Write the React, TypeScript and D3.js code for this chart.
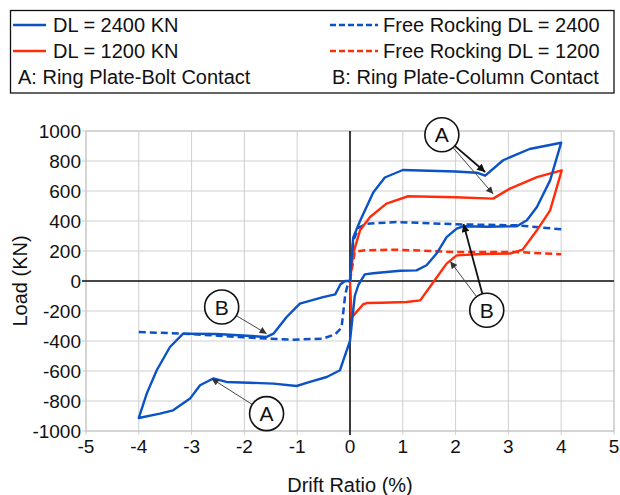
import React from "react";
import * as d3 from "d3";

// ---- data ----
const xTicks = [-5, -4, -3, -2, -1, 0, 1, 2, 3, 4, 5];
const yTicks = [-1000, -800, -600, -400, -200, 0, 200, 400, 600, 800, 1000];

// DL = 2400 KN (solid blue loop)
const dl2400: [number, number][] = [
  [0, 0], [0.06, 289], [0.19, 400], [0.44, 590], [0.66, 690], [1.0, 740], [1.5, 735], [2.0, 730],
  [2.4, 722], [2.56, 702], [2.9, 805], [3.4, 880], [4.0, 922], [3.79, 671], [3.54, 493], [3.35, 405],
  [3.16, 365], [2.6, 362], [2.15, 365], [2.02, 349], [1.83, 293], [1.64, 183], [1.45, 105], [1.26, 71],
  [0.95, 68], [0.44, 52], [0.28, 44], [0.16, -25], [0.09, -100], [0, -400], [-0.13, -533], [-0.19, -595],
  [-0.44, -640], [-0.76, -673], [-1.01, -700], [-1.45, -684], [-2.34, -673], [-2.59, -650], [-2.84, -695],
  [-3.03, -784], [-3.35, -862], [-3.6, -884], [-4.0, -913], [-3.85, -751], [-3.66, -595], [-3.41, -440],
  [-3.16, -351], [-2.53, -353], [-1.58, -373], [-1.45, -351], [-1.2, -240], [-0.95, -151], [-0.51, -107],
  [-0.28, -89], [-0.18, -22], [-0.09, 0], [0, 0],
];

// DL = 1200 KN (solid red loop)
const dl1200: [number, number][] = [
  [0, 0], [0.06, 183], [0.19, 338], [0.38, 427], [0.69, 516], [1.1, 565], [2.0, 558], [2.71, 549],
  [3.03, 616], [3.54, 693], [4.01, 738], [3.79, 471], [3.54, 338], [3.27, 209], [3.03, 183], [2.5, 180],
  [2.02, 171], [1.83, 116], [1.58, -7], [1.33, -129], [1.07, -140], [0.6, -145], [0.32, -147],
  [0.25, -155], [0.03, -244], [0, 0],
];

// Free Rocking DL = 2400 (dashed blue)
const free2400: [number, number][] = [
  [-4.0, -340], [-3.16, -351], [-2.5, -365], [-1.58, -384], [-1.07, -391], [-0.51, -384], [-0.28, -355],
  [-0.16, -311], [-0.09, -89], [-0.03, -7], [0, 0], [0.06, 267], [0.16, 355], [0.32, 382], [0.88, 393],
  [2.02, 378], [3.16, 371], [4.0, 345],
];

// Free Rocking DL = 1200 (dashed red)
const free1200: [number, number][] = [
  [0, 0], [0.09, 193], [0.25, 204], [0.88, 209], [2.02, 193], [3.16, 193], [4.0, 178],
];

const legendItems = ["DL = 2400 KN", "DL = 1200 KN", "Free Rocking DL = 2400", "Free Rocking DL = 1200"];
const noteA = "A: Ring Plate-Bolt Contact";
const noteB = "B: Ring Plate-Column Contact";

// annotation callouts: label, circle centre (data units), arrow targets (data units, thick?)
const callouts: { label: string; c: [number, number]; to: { p: [number, number]; thick: boolean }[] }[] = [
  { label: "A", c: [1.74, 975], to: [{ p: [2.56, 727], thick: true }, { p: [2.71, 581], thick: false }] },
  { label: "B", c: [2.59, -195], to: [{ p: [2.15, 380], thick: true }, { p: [1.9, 130], thick: false }] },
  { label: "B", c: [-2.43, -173], to: [{ p: [-1.58, -351], thick: false }] },
  { label: "A", c: [-1.58, -884], to: [{ p: [-2.62, -651], thick: false }] },
];

const BLUE = "#0a52c6";
const RED = "#ff2d0a";
const FONT = "'Liberation Sans', Arial, sans-serif";

export default function App() {
  const W = 620, H = 495;
  const left = 86, right = 614, top = 131, bottom = 431;
  const x = d3.scaleLinear().domain([-5, 5]).range([left, right]);
  const y = d3.scaleLinear().domain([-1000, 1000]).range([bottom, top]);
  const line = d3.line<[number, number]>().x((d) => x(d[0])).y((d) => y(d[1]));
  const fs = 19;
  const lfs = 20;
  const R = 17;

  return (
    <svg width={W} height={H} style={{ position: "absolute", left: 0, top: 0, background: "#fff" }}
      fontFamily={FONT}>
      <defs>
        <marker id="ahThick" viewBox="0 0 10 10" refX="10" refY="5" markerWidth="9" markerHeight="8"
          markerUnits="userSpaceOnUse" orient="auto">
          <path d="M0,0 L10,5 L0,10 z" fill="#111" />
        </marker>
        <marker id="ahThin" viewBox="0 0 10 10" refX="10" refY="5" markerWidth="8" markerHeight="7"
          markerUnits="userSpaceOnUse" orient="auto">
          <path d="M0,0 L10,5 L0,10 z" fill="#333" />
        </marker>
      </defs>
      <rect width={W} height={H} fill="#fff" />

      {/* legend */}
      <rect x={10.5} y={10.5} width={603.5} height={82.5} fill="none" stroke="#111" strokeWidth={1.3} />
      {legendItems.map((t, i) => {
        const col = i < 2 ? 0 : 1;
        const row = i % 2;
        const lx0 = col === 0 ? 13 : 330;
        const lx1 = col === 0 ? 46 : 378;
        const tx = col === 0 ? 53 : 383;
        const yy = row === 0 ? 25 : 51;
        const color = row === 0 ? BLUE : RED;
        return (
          <g key={t}>
            <line x1={lx0} x2={lx1} y1={yy} y2={yy} stroke={color} strokeWidth={2.5}
              strokeDasharray={col === 1 ? "6,3" : undefined} />
            <text x={tx} y={yy} dy="0.35em" fontSize={lfs} fill="#111">{t}</text>
          </g>
        );
      })}
      <text x={18} y={77} dy="0.35em" fontSize={lfs} fill="#111">{noteA}</text>
      <text x={332} y={77} dy="0.35em" fontSize={lfs} fill="#111">{noteB}</text>

      {/* grid */}
      {xTicks.map((t) => (
        <line key={"gx" + t} x1={x(t)} x2={x(t)} y1={top} y2={bottom + 4} stroke="#cfcfcf" strokeWidth={1} />
      ))}
      {yTicks.map((t) => (
        <line key={"gy" + t} x1={left - 4} x2={right} y1={y(t)} y2={y(t)} stroke="#cfcfcf" strokeWidth={1} />
      ))}
      <rect x={left} y={top} width={right - left} height={bottom - top} fill="none" stroke="#c4c4c4" strokeWidth={1} />
      {/* zero axes */}
      <line x1={left - 4} x2={right} y1={y(0)} y2={y(0)} stroke="#111" strokeWidth={1.6} />
      <line x1={x(0)} x2={x(0)} y1={top} y2={bottom + 4} stroke="#111" strokeWidth={1.6} />

      {/* tick labels */}
      {xTicks.map((t) => (
        <text key={"tx" + t} x={x(t)} y={bottom + 15} dy="0.35em" textAnchor="middle" fontSize={fs} fill="#111">{t}</text>
      ))}
      {yTicks.map((t) => (
        <text key={"ty" + t} x={left - 5} y={y(t)} dy="0.35em" textAnchor="end" fontSize={fs} fill="#111">{t}</text>
      ))}
      <text x={x(0)} y={485} dy="0.35em" textAnchor="middle" fontSize={lfs} fill="#111">Drift Ratio (%)</text>
      <text transform={`translate(20,${y(0)}) rotate(-90)`} dy="0.35em" textAnchor="middle" fontSize={lfs} fill="#111">Load (KN)</text>

      {/* series */}
      <path d={line(free2400) || ""} fill="none" stroke={BLUE} strokeWidth={2.5} strokeDasharray="7,4" />
      <path d={line(free1200) || ""} fill="none" stroke={RED} strokeWidth={2.5} strokeDasharray="7,4" />
      <path d={line(dl1200) || ""} fill="none" stroke={RED} strokeWidth={2.4} strokeLinejoin="round" />
      <path d={line(dl2400) || ""} fill="none" stroke={BLUE} strokeWidth={2.4} strokeLinejoin="round" />

      {/* callouts */}
      {callouts.map((c, i) => {
        const cx = x(c.c[0]), cy = y(c.c[1]);
        return (
          <g key={"c" + i}>
            {c.to.map((tg, j) => {
              const tx = x(tg.p[0]), ty = y(tg.p[1]);
              const dx = tx - cx, dy = ty - cy;
              const len = Math.hypot(dx, dy);
              const sx = cx + (dx / len) * R, sy = cy + (dy / len) * R;
              return (
                <line key={j} x1={sx} y1={sy} x2={tx} y2={ty} stroke={tg.thick ? "#111" : "#444"}
                  strokeWidth={tg.thick ? 1.8 : 1} markerEnd={tg.thick ? "url(#ahThick)" : "url(#ahThin)"} />
              );
            })}
            <circle cx={cx} cy={cy} r={R} fill="#fff" stroke="#111" strokeWidth={1.6} />
            <text x={cx} y={cy} dy="0.36em" textAnchor="middle" fontSize={21} fill="#111">{c.label}</text>
          </g>
        );
      })}
    </svg>
  );
}
